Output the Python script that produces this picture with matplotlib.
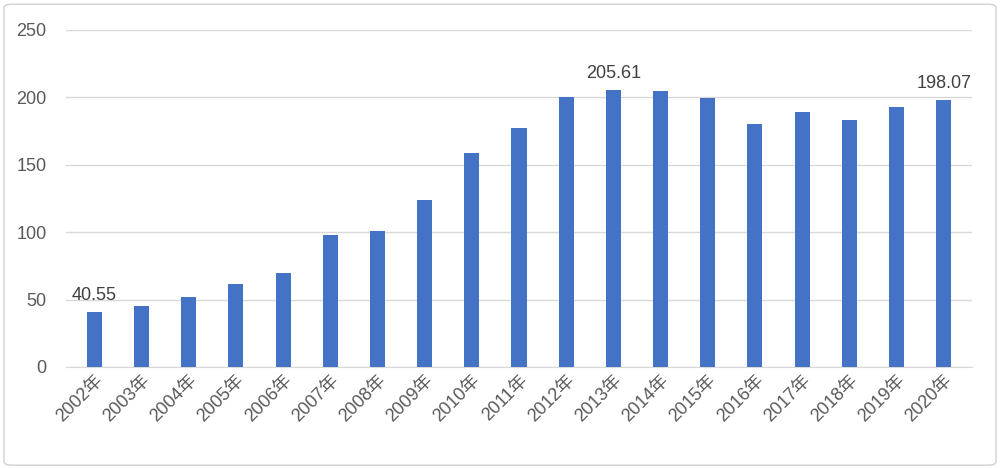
import matplotlib
matplotlib.use("Agg")
import matplotlib.pyplot as plt
from matplotlib.patches import FancyBboxPatch

plt.rcParams['font.family'] = ['Liberation Sans', 'Noto Sans CJK SC', 'DejaVu Sans']

years = [f"{y}年" for y in range(2002, 2021)]
values = [40.55, 45, 52, 61.6, 69.7, 97.5, 101, 124, 158.8, 177.5, 200, 205.61,
          204.7, 199.6, 180.3, 188.8, 183, 193, 198.07]
labeled = {0: "40.55", 11: "205.61", 18: "198.07"}

fig = plt.figure(figsize=(10, 4.68), dpi=100)
fig.patches.append(FancyBboxPatch((0.004, 0.006), 0.992, 0.985, boxstyle="round,pad=0,rounding_size=0.008",
                                  transform=fig.transFigure, fill=False, edgecolor="#d0d0d0", linewidth=1))
ax = fig.add_axes([0.066, 0.216, 0.906, 0.72])
x = range(len(years))
ax.bar(x, values, width=0.32, color="#4472C4", zorder=3)
ax.set_ylim(0, 250)
ax.set_xlim(-0.6, len(years) - 0.4)
ax.set_yticks(range(0, 251, 50))
ax.grid(axis='y', color="#d9d9d9", linewidth=1, zorder=0)
for s in ['top', 'right', 'left']:
    ax.spines[s].set_visible(False)
ax.spines['bottom'].set_color("#d9d9d9")
ax.tick_params(axis='both', length=0, colors="#595959", labelsize=13)
ax.tick_params(axis='y', pad=14)
ax.set_xticks(list(x))
ax.set_xticklabels(years, rotation=45, ha='right', rotation_mode='anchor')
for i, t in labeled.items():
    ax.text(i, values[i] + 6, t, ha='center', va='bottom', fontsize=13, color="#404040")
fig.savefig("out.png", dpi=100)
